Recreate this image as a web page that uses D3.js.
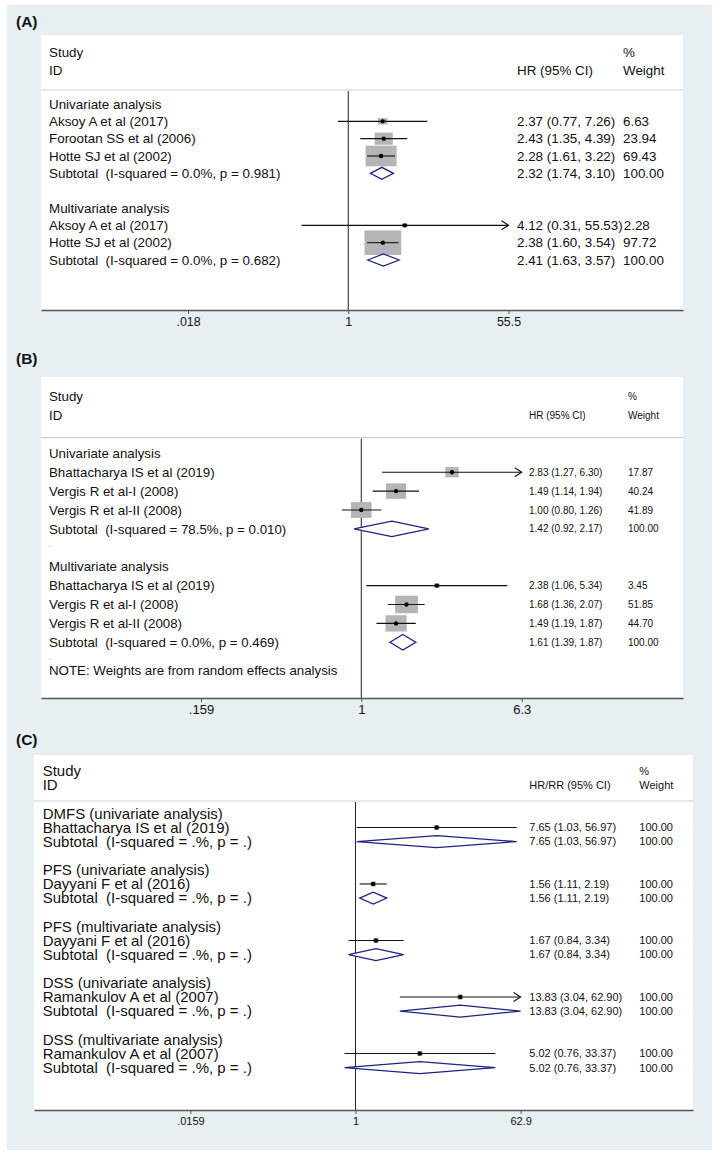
<!DOCTYPE html>
<html>
<head>
<meta charset="utf-8">
<script src="https://cdn.jsdelivr.net/npm/d3@7"></script>
<style>
  body { margin: 0; background: #fff; }
  svg text { white-space: pre; }
</style>
</head>
<body>
<svg id="chart" width="720" height="1152"></svg>
<script>
// ---- data: panel A ----
const labelsA = ["Univariate analysis", "Aksoy A et al (2017)", "Forootan SS et al (2006)", "Hotte SJ et al (2002)",
  "Subtotal  (I-squared = 0.0%, p = 0.981)", "", "Multivariate analysis", "Aksoy A et al (2017)",
  "Hotte SJ et al (2002)", "Subtotal  (I-squared = 0.0%, p = 0.682)"];
const kindA = ["group", "study", "study", "study", "sub", "gap", "group", "study", "study", "sub"];
const hrA = [null, 2.37, 2.43, 2.28, 2.32, null, null, 4.12, 2.38, 2.41];
const lowA = [null, 0.77, 1.35, 1.61, 1.74, null, null, 0.31, 1.60, 1.63];
const highA = [null, 7.26, 4.39, 3.22, 3.10, null, null, 55.53, 3.54, 3.57];
const weightA = [null, 6.63, 23.94, 69.43, 100, null, null, 2.28, 97.72, 100];
const ticksA = [0.018, 1, 55.5];
const tickLabelsA = [".018", "1", "55.5"];

// ---- data: panel B ----
const labelsB = ["Univariate analysis", "Bhattacharya IS et al (2019)", "Vergis R et al-I (2008)", "Vergis R et al-II (2008)",
  "Subtotal  (I-squared = 78.5%, p = 0.010)", ".", "Multivariate analysis", "Bhattacharya IS et al (2019)",
  "Vergis R et al-I (2008)", "Vergis R et al-II (2008)", "Subtotal  (I-squared = 0.0%, p = 0.469)", "."];
const kindB = ["group", "study", "study", "study", "sub", "dot", "group", "study", "study", "study", "sub", "dot"];
const hrB = [null, 2.83, 1.49, 1.00, 1.42, null, null, 2.38, 1.68, 1.49, 1.61, null];
const lowB = [null, 1.27, 1.14, 0.80, 0.92, null, null, 1.06, 1.36, 1.19, 1.39, null];
const highB = [null, 6.30, 1.94, 1.26, 2.17, null, null, 5.34, 2.07, 1.87, 1.87, null];
const weightB = [null, 17.87, 40.24, 41.89, 100, null, null, 3.45, 51.85, 44.70, 100, null];
const noteB = "NOTE: Weights are from random effects analysis";
const ticksB = [0.159, 1, 6.3];
const tickLabelsB = [".159", "1", "6.3"];

// ---- data: panel C ----
const labelsC = ["DMFS (univariate analysis)", "Bhattacharya IS et al (2019)", "Subtotal  (I-squared = .%, p = .)", "",
  "PFS (univariate analysis)", "Dayyani F et al (2016)", "Subtotal  (I-squared = .%, p = .)", "",
  "PFS (multivariate analysis)", "Dayyani F et al (2016)", "Subtotal  (I-squared = .%, p = .)", "",
  "DSS (univariate analysis)", "Ramankulov A et al (2007)", "Subtotal  (I-squared = .%, p = .)", "",
  "DSS (multivariate analysis)", "Ramankulov A et al (2007)", "Subtotal  (I-squared = .%, p = .)"];
const kindC = ["group", "study", "sub", "gap", "group", "study", "sub", "gap", "group", "study", "sub", "gap",
  "group", "study", "sub", "gap", "group", "study", "sub"];
const hrC = [null, 7.65, 7.65, null, null, 1.56, 1.56, null, null, 1.67, 1.67, null, null, 13.83, 13.83, null, null, 5.02, 5.02];
const lowC = [null, 1.03, 1.03, null, null, 1.11, 1.11, null, null, 0.84, 0.84, null, null, 3.04, 3.04, null, null, 0.76, 0.76];
const highC = [null, 56.97, 56.97, null, null, 2.19, 2.19, null, null, 3.34, 3.34, null, null, 62.90, 62.90, null, null, 33.37, 33.37];
const weightC = [null, 100, 100, null, null, 100, 100, null, null, 100, 100, null, null, 100, 100, null, null, 100, 100];
const ticksC = [0.0159, 1, 62.9];
const tickLabelsC = [".0159", "1", "62.9"];

const FONT = '"Liberation Sans", Arial, Helvetica, sans-serif';
const fmt = d3.format(".2f");
const svg = d3.select('#chart');

svg.append('rect')
  .attr('x', 7).attr('y', 5).attr('width', 705).attr('height', 1145)
  .attr('fill', '#e7eff2');

// layout of each panel (pixels), data arrays are plugged in below
const panels = [
  {tag: "(A)", tagY: 22, left: 41, right: 683, top: 35, axisY: 310, studyY: 52, idY: 70, sepY: 90,
   textX: 49, ciX: 517, wX: 623, ciHead: "HR (95% CI)", lFont: 13.4, rFont: 13.4, tickFont: 12.4,
   xRange: [188, 508.5], yRange: [104, 260], boxK: 3.72, boxAspect: 1.5, dHalf: 6,
   labels: labelsA, kind: kindA, hr: hrA, low: lowA, high: highA, weight: weightA,
   ticks: ticksA, tickLabels: tickLabelsA},
  {tag: "(B)", tagY: 359, left: 41, right: 683, top: 377, axisY: 698, studyY: 396, idY: 415, sepY: 437.7,
   textX: 49, ciX: 529, wX: 628, ciHead: "HR (95% CI)", lFont: 13.3, rFont: 10, tickFont: 13,
   xRange: [201, 521.7], yRange: [453.3, 642.3], boxK: 3.17, boxAspect: 1.3, dHalf: 7.8,
   labels: labelsB, kind: kindB, hr: hrB, low: lowB, high: highB, weight: weightB,
   ticks: ticksB, tickLabels: tickLabelsB, note: noteB},
  {tag: "(C)", tagY: 740, left: 34, right: 693, top: 755, axisY: 1110, studyY: 770.7, idY: 785, sepY: 801,
   textX: 42.7, ciX: 529.3, wX: 639.3, ciHead: "HR/RR (95% CI)", lFont: 15, rFont: 11, tickFont: 11,
   xRange: [190.4, 520.6], yRange: [813.3, 1067.7], boxK: 0.55, boxAspect: 1.1, dHalf: 6,
   labels: labelsC, kind: kindC, hr: hrC, low: lowC, high: highC, weight: weightC,
   ticks: ticksC, tickLabels: tickLabelsC}
];

panels.forEach(drawPanel);

function drawPanel(p) {
  const g = svg.append('g').attr('font-family', FONT).attr('fill', '#111');
  const x = d3.scaleLog()
    .domain([p.ticks[0], p.ticks[p.ticks.length - 1]])
    .range(p.xRange);
  const lastStep = p.kind.lastIndexOf('sub');
  const y = d3.scaleLinear()
    .domain([0, lastStep])
    .range(p.yRange);
  const xmax = x.domain()[1];

  g.append('text')
    .attr('x', 16).attr('y', p.tagY).attr('dy', '0.35em')
    .attr('font-size', 15.5).attr('font-weight', 'bold')
    .text(p.tag);

  g.append('rect')
    .attr('x', p.left).attr('y', p.top)
    .attr('width', p.right - p.left).attr('height', p.axisY - p.top)
    .attr('fill', '#fff');

  // header
  g.append('text').attr('x', p.textX).attr('y', p.studyY).attr('dy', '0.35em')
    .attr('font-size', p.lFont).text('Study');
  g.append('text').attr('x', p.textX).attr('y', p.idY).attr('dy', '0.35em')
    .attr('font-size', p.lFont).text('ID');
  g.append('text').attr('x', p.ciX).attr('y', p.idY).attr('dy', '0.35em')
    .attr('font-size', p.rFont).text(p.ciHead);
  g.append('text').attr('x', p.wX).attr('y', p.studyY).attr('dy', '0.35em')
    .attr('font-size', p.rFont).text('%');
  g.append('text').attr('x', p.wX).attr('y', p.idY).attr('dy', '0.35em')
    .attr('font-size', p.rFont).text('Weight');
  g.append('line')
    .attr('x1', p.left).attr('x2', p.right)
    .attr('y1', p.sepY).attr('y2', p.sepY)
    .attr('stroke', '#cfcfcf').attr('stroke-width', 1.2);

  // null line
  g.append('line')
    .attr('x1', x(1)).attr('x2', x(1))
    .attr('y1', p.sepY + 1).attr('y2', p.axisY)
    .attr('stroke', '#222').attr('stroke-width', 1);

  // x axis across the whole box
  const axisScale = x.copy()
    .domain([x.invert(p.left), x.invert(p.right)])
    .range([p.left, p.right]);
  const ax = g.append('g')
    .attr('transform', `translate(0,${p.axisY})`)
    .call(d3.axisBottom(axisScale)
      .tickValues(p.ticks)
      .tickFormat((d, i) => p.tickLabels[i])
      .tickSize(4).tickSizeOuter(0).tickPadding(3));
  ax.select('.domain').attr('stroke', '#555').attr('stroke-width', 1.3);
  ax.selectAll('.tick line').attr('stroke', '#555');
  ax.selectAll('.tick text')
    .attr('font-family', FONT).attr('font-size', p.tickFont).attr('fill', '#111');

  const rows = p.labels.map((lab, i) => ({
    lab, i, kind: p.kind[i], hr: p.hr[i], lo: p.low[i], hi: p.high[i], w: p.weight[i]
  }));

  // row labels
  g.selectAll('text.lab')
    .data(rows.filter(r => r.lab !== ''))
    .join('text')
      .attr('class', 'lab')
      .attr('x', p.textX)
      .attr('y', d => y(d.i))
      .attr('dy', d => d.kind === 'dot' ? '-0.1em' : '0.35em')
      .attr('font-size', d => d.kind === 'dot' ? 8 : p.lFont)
      .attr('fill', d => d.kind === 'dot' ? '#999' : '#111')
      .text(d => d.lab);

  if (p.note) {
    g.append('text')
      .attr('x', p.textX).attr('y', y(lastStep + 1.5)).attr('dy', '0.35em')
      .attr('font-size', p.lFont).text(p.note);
  }

  const studies = rows.filter(r => r.kind === 'study');
  const subs = rows.filter(r => r.kind === 'sub');

  // weight boxes
  g.selectAll('rect.box')
    .data(studies)
    .join('rect')
      .attr('class', 'box')
      .attr('x', d => x(d.hr) - p.boxK * Math.sqrt(d.w) / 2)
      .attr('y', d => y(d.i) - p.boxK * Math.sqrt(d.w) / p.boxAspect / 2)
      .attr('width', d => p.boxK * Math.sqrt(d.w))
      .attr('height', d => p.boxK * Math.sqrt(d.w) / p.boxAspect)
      .attr('fill', '#b5b5b5');

  // CI lines
  g.selectAll('line.ci')
    .data(studies)
    .join('line')
      .attr('class', 'ci')
      .attr('x1', d => x(d.lo))
      .attr('x2', d => x(Math.min(d.hi, xmax)))
      .attr('y1', d => y(d.i)).attr('y2', d => y(d.i))
      .attr('stroke', '#111').attr('stroke-width', 1.1);

  // arrows where CI runs past the axis
  g.selectAll('path.arrow')
    .data(studies.filter(d => d.hi >= xmax * 0.999))
    .join('path')
      .attr('class', 'arrow')
      .attr('d', d => {
        const tx = x(xmax), ty = y(d.i);
        return `M${tx - 7},${ty - 4.5}L${tx},${ty}L${tx - 7},${ty + 4.5}`;
      })
      .attr('fill', 'none').attr('stroke', '#111').attr('stroke-width', 1.1);

  g.selectAll('circle.pt')
    .data(studies)
    .join('circle')
      .attr('class', 'pt')
      .attr('cx', d => x(d.hr)).attr('cy', d => y(d.i))
      .attr('r', 2.2).attr('fill', '#000');

  // pooled diamonds
  g.selectAll('path.diamond')
    .data(subs)
    .join('path')
      .attr('class', 'diamond')
      .attr('d', d => {
        const cy = y(d.i);
        const l = x(d.lo), c = x(d.hr), r = x(Math.min(d.hi, xmax));
        return `M${l},${cy}L${c},${cy - p.dHalf}L${r},${cy}L${c},${cy + p.dHalf}Z`;
      })
      .attr('fill', '#fff').attr('stroke', '#1c2383').attr('stroke-width', 1.3);

  // estimate text and weight text
  const est = rows.filter(r => r.kind === 'study' || r.kind === 'sub');
  est.forEach(d => {
    const t = g.append('text')
      .attr('x', p.ciX).attr('y', y(d.i)).attr('dy', '0.35em')
      .attr('font-size', p.rFont)
      .text(`${fmt(d.hr)} (${fmt(d.lo)}, ${fmt(d.hi)})`);
    const end = p.ciX + t.node().getComputedTextLength();
    g.append('text')
      .attr('x', Math.max(p.wX, end + 1)).attr('y', y(d.i)).attr('dy', '0.35em')
      .attr('font-size', p.rFont)
      .text(fmt(d.w));
  });
}
</script>
</body>
</html>
